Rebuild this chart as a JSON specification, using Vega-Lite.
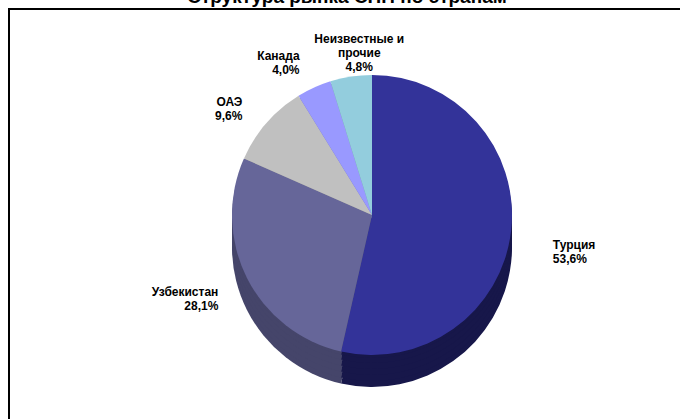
{
  "$schema": "https://vega.github.io/schema/vega-lite/v6.json",
  "autosize": {"type": "none"},
  "padding": {"left": 9, "top": 9, "right": 0, "bottom": 0},
  "width": 726,
  "height": 412,
  "background": "white",
  "view": {"stroke": "black", "strokeWidth": 2, "fill": "white"},
  "config": {
    "view": {"stroke": "black", "strokeWidth": 2},
    "font": "Liberation Sans"
  },
  "title": {
    "text": "Структура рынка СНП по странам",
    "font": "Liberation Sans",
    "fontSize": 19,
    "fontWeight": "bold",
    "color": "black",
    "anchor": "middle",
    "offset": 2,
    "dx": -25
  },
  "data": {
    "values": [
      {"country": "Турция", "share": 53.6, "order": 1, "label": "Турция\n53,6%"},
      {"country": "Узбекистан", "share": 28.1, "order": 2, "label": "Узбекистан\n28,1%"},
      {"country": "ОАЭ", "share": 9.6, "order": 3, "label": "ОАЭ\n9,6%"},
      {"country": "Канада", "share": 4.0, "order": 4, "label": "Канада\n4,0%"},
      {"country": "Неизвестные и прочие", "share": 4.8, "order": 5, "label": "Неизвестные и\nпрочие\n4,8%"}
    ]
  },
  "encoding": {
    "theta": {"field": "share", "type": "quantitative", "stack": true},
    "order": {"field": "order", "type": "quantitative"}
  },
  "layer": [
    {
      "mark": {"type": "arc", "radius": 140, "yOffset": 32, "strokeWidth": 0},
      "encoding": {"fill": {"field": "country", "type": "nominal", "legend": null,
        "scale": {"domain": ["Турция", "Узбекистан", "ОАЭ", "Канада", "Неизвестные и прочие"],
                  "range": ["#17174a", "#45456a", "#8f8f8f", "#7272bf", "#6d9aa6"]}}}
    },
    {
      "mark": {"type": "arc", "radius": 140, "yOffset": 26, "strokeWidth": 0},
      "encoding": {"fill": {"field": "country", "type": "nominal", "legend": null}}
    },
    {
      "mark": {"type": "arc", "radius": 140, "yOffset": 20, "strokeWidth": 0},
      "encoding": {"fill": {"field": "country", "type": "nominal", "legend": null}}
    },
    {
      "mark": {"type": "arc", "radius": 140, "yOffset": 14, "strokeWidth": 0},
      "encoding": {"fill": {"field": "country", "type": "nominal", "legend": null}}
    },
    {
      "mark": {"type": "arc", "radius": 140, "yOffset": 8, "strokeWidth": 0},
      "encoding": {"fill": {"field": "country", "type": "nominal", "legend": null}}
    },
    {
      "mark": {"type": "arc", "radius": 140, "yOffset": 3, "strokeWidth": 0},
      "encoding": {"fill": {"field": "country", "type": "nominal", "legend": null}}
    },
    {
      "mark": {"type": "arc", "radius": 140, "strokeWidth": 0},
      "encoding": {"color": {"field": "country", "type": "nominal", "legend": null,
        "scale": {"domain": ["Турция", "Узбекистан", "ОАЭ", "Канада", "Неизвестные и прочие"],
                  "range": ["#333399", "#666699", "#c0c0c0", "#9999ff", "#93cddd"]}}}
    },
    {
      "mark": {"type": "text", "radius": 182, "align": "left", "baseline": "middle", "lineBreak": "\n", "dy": 10,
               "font": "Liberation Sans", "fontWeight": "bold", "fontSize": 12, "color": "black", "lineHeight": 14},
      "encoding": {"text": {"condition": {"test": "datum.country === 'Турция'", "field": "label"}, "value": ""}}
    },
    {
      "mark": {"type": "text", "radius": 172, "align": "right", "baseline": "middle", "lineBreak": "\n",
               "font": "Liberation Sans", "fontWeight": "bold", "fontSize": 12, "color": "black", "lineHeight": 14},
      "encoding": {"text": {"condition": {"test": "indexof(['Узбекистан','ОАЭ'], datum.country) >= 0", "field": "label"}, "value": ""}}
    },
    {
      "mark": {"type": "text", "radius": 175, "align": "right", "baseline": "middle", "lineBreak": "\n",
               "font": "Liberation Sans", "fontWeight": "bold", "fontSize": 12, "color": "black", "lineHeight": 14},
      "encoding": {"text": {"condition": {"test": "datum.country === 'Канада'", "field": "label"}, "value": ""}}
    },
    {
      "mark": {"type": "text", "radius": 178, "align": "center", "baseline": "middle", "lineBreak": "\n", "dx": 14,
               "font": "Liberation Sans", "fontWeight": "bold", "fontSize": 12, "color": "black", "lineHeight": 14},
      "encoding": {"text": {"condition": {"test": "datum.country === 'Неизвестные и прочие'", "field": "label"}, "value": ""}}
    }
  ],
  "resolve": {"scale": {"color": "independent"}}
}
